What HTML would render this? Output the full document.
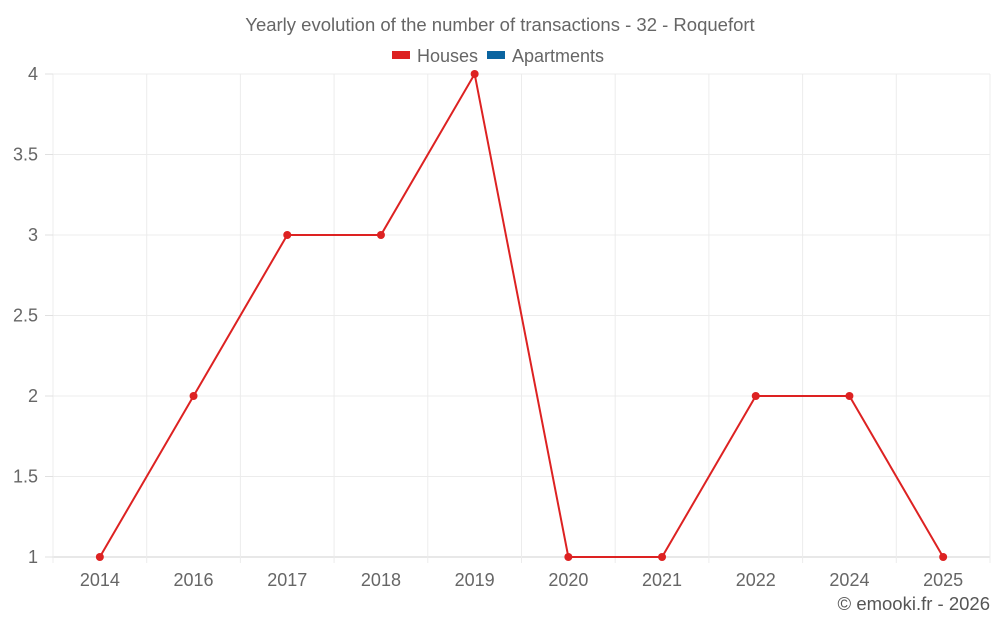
<!DOCTYPE html>
<html><head><meta charset="utf-8">
<style>
html,body{margin:0;padding:0;background:#fff;}
svg{display:block;font-family:"Liberation Sans",sans-serif;}
</style></head>
<body>
<svg id="chart" width="1000" height="625">
<text x="500" y="31" text-anchor="middle" font-size="18.5" fill="#666">Yearly evolution of the number of transactions - 32 - Roquefort</text>
<g>
<g><rect x="392" y="51" width="18" height="8" fill="#dd2222"/><text x="417" y="62" font-size="18" fill="#666">Houses</text></g>
<g><rect x="487" y="51" width="18" height="8" fill="#0a64a0"/><text x="512" y="62" font-size="18" fill="#666">Apartments</text></g>
</g>
<g id="grid"></g><g id="axes"></g><g id="series"></g>
<text x="990" y="610" text-anchor="end" font-size="18.5" fill="#555">© emooki.fr - 2026</text>
</svg>
<script>
const categories = ["2014","2016","2017","2018","2019","2020","2021","2022","2024","2025"];
const housesValues = [1,2,3,3,4,1,1,2,2,1];
const yTicks = [1,1.5,2,2.5,3,3.5,4];
const yTickLabels = ["1","1.5","2","2.5","3","3.5","4"];

const NS="http://www.w3.org/2000/svg";
const L=53,R=990,T=74,B=557,yMin=1,yMax=4;
const band=(R-L)/categories.length;
const x=i=>L+band*(i+0.5);
const y=v=>B-(v-yMin)/(yMax-yMin)*(B-T);
function mk(tag,attrs,parent){const e=document.createElementNS(NS,tag);for(const k in attrs)e.setAttribute(k,attrs[k]);parent.appendChild(e);return e;}
const grid=document.getElementById('grid'),axes=document.getElementById('axes'),series=document.getElementById('series');
yTicks.forEach((t,i)=>{
  const ln=mk('line',{x1:L,x2:R,y1:y(t),y2:y(t),stroke:i===0?'#d0d0d0':'#ececec','stroke-width':1},grid);
  
  
  const tk=mk('line',{x1:45,x2:L,y1:y(t),y2:y(t),stroke:'#e0e0e0'},axes);
  
  
  const tx=mk('text',{x:38,y:y(t)+6,'text-anchor':'end','font-size':18,fill:'#666'},axes);
  tx.textContent=yTickLabels[i];
  
  
});
for(let i=0;i<=categories.length;i++){
  const gx=L+band*i;
  const ln=mk('line',{x1:gx,x2:gx,y1:T,y2:B+6,stroke:'#ececec'},grid);
  
  
}
categories.forEach((c,i)=>{
  const tx=mk('text',{x:x(i),y:586,'text-anchor':'middle','font-size':18,fill:'#666'},axes);
  tx.textContent=c;
  
  
});
const pts=housesValues.map((v,i)=>x(i)+','+y(v)).join(' ');
const pl=mk('polyline',{points:pts,fill:'none',stroke:'#dd2222','stroke-width':2},series);


housesValues.forEach((v,i)=>{
  const c=mk('circle',{cx:x(i),cy:y(v),r:4,fill:'#dd2222'},series);
  
  
});
</script>
</body></html>
